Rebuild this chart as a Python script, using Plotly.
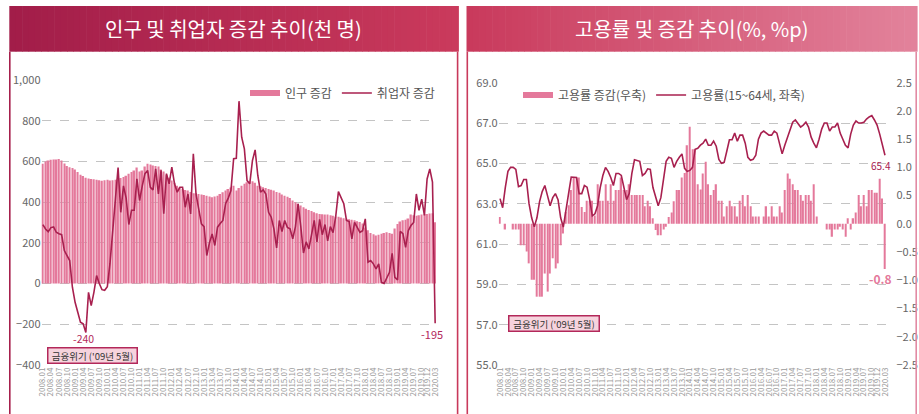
import plotly.graph_objects as go

# ---------------- data ----------------
months = [f"{y}.{m:02d}" for y in range(2008, 2021) for m in range(1, 13)][:147]
tick_vals = months[0:142:3] + ["2019.12", "2020.03"]
tick_text = months[0:142:3] + ["2019.12", "2020.03"]

# 인구 증감 (천 명)
pop_change = [
    588, 600, 605, 608, 610, 610, 612, 605, 590, 578, 572, 568,
    560, 548, 535, 528, 520, 516, 514, 512, 510, 508, 505, 508,
    510, 506, 508, 510, 512, 518, 524, 530, 540, 548, 555, 570,
    550, 555, 575, 588, 585, 580, 578, 575, 560, 550, 535, 520,
    506, 495, 481, 472, 465, 460, 457, 450, 444, 442, 440, 437,
    435, 432, 428, 424, 428, 432, 440, 449, 457, 465, 472, 481,
    457, 470, 481, 490, 498, 500, 503, 495, 481, 478, 473, 470,
    465, 461, 457, 450, 446, 438, 432, 427, 420, 408, 400, 392,
    384, 375, 368, 362, 356, 350, 345, 342, 340, 339, 339, 336,
    333, 330, 328, 325, 321, 318, 316, 313, 311, 306, 303, 295,
    275, 262, 248, 242, 236, 240, 245, 248, 252, 248, 245, 270,
    293, 305, 311, 314, 320, 339, 336, 333, 336, 339, 340, 342,
    344, 345, 301,
]

# 취업자 증감 (천 명)
emp_change = [
    290, 268, 255, 275, 278, 252, 245, 240, 162, 135, 113, -18,
    -92, -141, -190, -198, -240, -43, -108, -43, 39, 0, -30, -33,
    -15, 100, 260, 400, 570, 350, 480, 420, 290, 360, 360, 514,
    408, 480, 540, 556, 473, 460, 563, 440, 556, 343, 540, 490,
    572, 490, 449, 473, 473, 375, 440, 342, 637, 440, 375, 293,
    280, 138, 200, 244, 187, 277, 295, 310, 392, 420, 457, 613,
    615, 896, 719, 662, 506, 490, 604, 657, 531, 449, 460, 440,
    350, 326, 269, 175, 310, 256, 310, 276, 269, 220, 280, 392,
    280, 150, 205, 170, 240, 310, 205, 315, 240, 290, 210, 280,
    250, 330, 452, 424, 392, 310, 305, 220, 300, 276, 252, 260,
    318, 105, 113, 97, 72, 97, 6, 0, 31, 55, 149, 31,
    18, 256, 245, 178, 260, 285, 300, 440, 360, 415, 335, 514,
    563, 498, -195,
]

# 고용률 증감 (%p, 우축)
rate_change = [
    0.12, 0.0, -0.1, 0.0, 0.0, -0.1, -0.1, -0.1, -0.38, -0.38, -0.49, -0.7,
    -0.99, -0.99, -1.29, -1.29, -1.29, -0.88, -1.2, -0.88, -0.61, -0.79, -0.7, -0.38,
    -0.17, 0.21, 0.33, 0.6, 0.82, 0.82, 0.82, 0.3, 0.21, 0.41, 0.41, 0.41,
    0.15, 0.7, 0.41, 0.41, 0.7, 0.41, 0.7, 0.41, 0.6, 0.6, 0.82, 0.6,
    0.6, 0.7, 0.51, 0.51, 0.51, 0.51, 0.51, 0.31, 0.41, 0.31, 0.1, -0.11,
    -0.2, -0.2, -0.1, -0.05, 0.12, 0.2, 0.4, 0.6, 0.6, 0.82, 0.9, 1.39,
    1.72, 1.32, 1.32, 0.7, 0.61, 0.89, 1.1, 0.7, 0.51, 0.6, 0.7, 0.41,
    0.41, 0.13, 0.31, 0.41, 0.31, 0.31, 0.13, 0.41, 0.51, 0.31, 0.51, 0.31,
    0.13, 0.13, 0.13, 0.0, 0.13, 0.31, 0.13, 0.31, 0.13, 0.13, 0.31, 0.2,
    0.6, 0.89, 0.8, 0.7, 0.6, 0.6, 0.51, 0.41, 0.51, 0.51, 0.41, 0.7,
    0.13, 0.0, 0.0, 0.0, -0.1, -0.1, -0.23, -0.1, -0.1, -0.05, -0.1, -0.23,
    0.1, -0.1, 0.1, 0.2, 0.51, 0.31, 0.51, 0.31, 0.6, 0.6, 0.55, 0.55,
    0.8, 0.45, -0.8,
]

# 고용률 (15~64세, %, 좌축)
emp_rate = [
    63.25, 62.8, 63.8, 64.6, 64.8, 64.8, 64.7, 63.85, 63.9, 64.2, 64.2, 63.0,
    62.3, 61.85, 62.3, 63.1, 63.6, 63.9, 63.4, 62.9, 63.3, 63.5, 63.2, 62.3,
    61.84, 62.58, 63.5, 64.32, 64.3, 64.3, 63.5, 63.5, 63.9, 63.82, 63.2, 62.4,
    62.5, 62.9, 63.8, 64.4, 64.8, 64.6, 64.3, 63.9, 64.5, 64.5, 64.4, 63.8,
    63.2, 63.5, 64.5, 65.18, 65.15, 65.1, 64.4, 64.5, 64.73, 64.7, 63.8, 63.3,
    62.9, 63.3, 64.2, 65.1, 65.3, 65.25, 64.8, 65.1, 65.3, 65.47, 64.75, 64.6,
    64.65, 64.8, 65.7, 65.75, 65.9, 66.0, 66.2, 65.9, 65.9, 66.1, 65.85, 65.2,
    65.0, 65.05, 65.6, 66.17, 66.17, 66.5, 66.1, 66.4, 66.4, 66.0, 65.3, 65.15,
    65.2, 65.4, 66.2, 66.5, 66.6, 66.5, 66.4, 66.4, 66.6, 66.5, 66.0, 65.47,
    65.9, 66.3, 66.6, 67.04, 67.15, 67.0, 66.8, 66.9, 67.04, 66.8, 66.3, 66.0,
    65.77, 66.2, 66.7, 67.0, 67.0, 66.6, 66.8, 66.8, 67.0, 66.5, 66.2, 65.9,
    65.77, 66.45, 66.9, 67.1, 67.0, 67.0, 67.04, 67.2, 67.3, 67.37, 67.15, 66.9,
    66.45, 65.95, 65.4,
]

# ---------------- style ----------------
W, H = 919, 414
FONT = "Noto Sans CJK KR"
BAR = "#e4799b"
LINE = "#a8204f"
GRID = "#c4c4c4"


def px(x):
    return x / W


def py(y):
    return 1 - y / H


i_min = emp_change.index(min(emp_change))   # 2009.05
i_last = len(months) - 1                     # 2020.03

fig = go.Figure()

# left panel
fig.add_trace(go.Bar(x=months, y=pop_change, marker=dict(color=BAR, line=dict(width=0)),
                     width=0.6, showlegend=False, xaxis="x", yaxis="y", hoverinfo="skip"))
fig.add_trace(go.Scatter(x=[None], y=[None], mode="lines", name="인구 증감",
                         line=dict(color=BAR, width=6), legend="legend", xaxis="x", yaxis="y"))
fig.add_trace(go.Scatter(x=months, y=emp_change, mode="lines", name="취업자 증감",
                         line=dict(color=LINE, width=1.6), legend="legend", xaxis="x", yaxis="y"))

# right panel
fig.add_trace(go.Bar(x=months, y=rate_change, marker=dict(color=BAR, line=dict(width=0)),
                     width=0.5, showlegend=False, xaxis="x2", yaxis="y2", hoverinfo="skip"))
fig.add_trace(go.Scatter(x=[None], y=[None], mode="lines", name="고용률 증감(우축)",
                         line=dict(color=BAR, width=6), legend="legend2", xaxis="x2", yaxis="y2"))
fig.add_trace(go.Scatter(x=months, y=emp_rate, mode="lines", name="고용률(15~64세, 좌축)",
                         line=dict(color=LINE, width=1.6), legend="legend2", xaxis="x2", yaxis="y3"))

xcommon = dict(type="category", tickmode="array", tickvals=tick_vals, ticktext=tick_text,
               tickangle=-90, tickfont=dict(size=8, color="#9a9a9a", family=FONT),
               showgrid=False, zeroline=False, showline=False, ticks="", fixedrange=True,
               automargin=False)

fig.update_layout(
    width=W, height=H,
    margin=dict(l=0, r=0, t=0, b=0, autoexpand=False),
    paper_bgcolor="white", plot_bgcolor="rgba(0,0,0,0)",
    font=dict(family=FONT, color="#555"),
    bargap=0.2,
    xaxis=dict(domain=[px(41.5), px(436.5)], anchor="y", range=[-0.5, 146.5], **xcommon),
    yaxis=dict(domain=[py(365), py(80)], anchor="x", range=[-400, 1000], dtick=200,
               tickformat=",", showgrid=True, gridcolor=GRID, griddash="dash", gridwidth=1,
               zeroline=False, showline=False, automargin=False,
               tickfont=dict(size=11, color="#666", family=FONT)),
    xaxis2=dict(domain=[px(498.7), px(886.3)], anchor="y2", range=[-0.5, 146.5], **xcommon),
    yaxis2=dict(domain=[py(365), py(82.7)], anchor="x2", side="right", range=[-2.5, 2.5],
                dtick=0.5, tickformat=".1f", showgrid=False, zeroline=False, showline=False,
                ticks="outside", ticklen=7, tickcolor="rgba(0,0,0,0)", automargin=False,
                tickfont=dict(size=11, color="#666", family=FONT)),
    yaxis3=dict(overlaying="y2", anchor="x2", side="left", range=[55, 69], tick0=55, dtick=2,
                tickformat=".1f", showgrid=True, gridcolor=GRID, griddash="dash", gridwidth=1,
                zeroline=False, showline=False, automargin=False,
                tickfont=dict(size=11, color="#666", family=FONT)),
    legend=dict(orientation="h", x=px(440), xanchor="right", y=py(93), yanchor="middle",
                font=dict(size=12, color="#555", family=FONT), bgcolor="rgba(0,0,0,0)",
                itemwidth=30, tracegroupgap=0),
    legend2=dict(orientation="h", x=px(518), xanchor="left", y=py(95), yanchor="middle",
                 font=dict(size=12, color="#555", family=FONT), bgcolor="rgba(0,0,0,0)",
                 itemwidth=30, tracegroupgap=0),
)

# header bars (horizontal gradient via strips)
shapes = []


def gradient(x0, x1, y0, y1, c0, c1, n=70):
    step = (x1 - x0) / n
    for i in range(n):
        t = i / (n - 1)
        c = tuple(round(c0[k] + (c1[k] - c0[k]) * t) for k in range(3))
        shapes.append(dict(type="rect", xref="paper", yref="paper",
                           x0=px(x0 + i * step), x1=px(x0 + (i + 1) * step + 0.6),
                           y0=py(y1), y1=py(y0), line=dict(width=0),
                           fillcolor=f"rgb{c}", layer="below"))


gradient(9.3, 458.3, 6, 51.7, (162, 29, 73), (202, 58, 92))
gradient(466.5, 917, 6, 51.7, (201, 58, 92), (226, 130, 155))

# panel borders
for xb, col in [(9.8, "#a61f4c"), (457.6, "#c8385a"), (467.3, "#c93a5c"), (916.2, "#e28aa4")]:
    shapes.append(dict(type="line", xref="paper", yref="paper", x0=px(xb), x1=px(xb),
                       y0=py(414), y1=py(51.7), line=dict(color=col, width=1.6)))

fig.update_layout(shapes=shapes)

ann = []
ann.append(dict(text="인구 및 취업자 증감 추이(천 명)", x=px(233.8), y=py(29), xref="paper", yref="paper",
                xanchor="center", yanchor="middle", showarrow=False,
                font=dict(size=20, color="white", family=FONT)))
ann.append(dict(text="고용률 및 증감 추이(%, %p)", x=px(691.7), y=py(29), xref="paper", yref="paper",
                xanchor="center", yanchor="middle", showarrow=False,
                font=dict(size=20, color="white", family=FONT)))

# left annotations
ann.append(dict(text=f"{emp_change[i_min]}", x=i_min, y=emp_change[i_min], xref="x", yref="y",
                showarrow=False, xanchor="center", yanchor="top", yshift=2, xshift=-2,
                borderpad=0, font=dict(size=10.5, color="#b3285a", family=FONT)))
ann.append(dict(text=f"{emp_change[i_last]}", x=i_last, y=emp_change[i_last], xref="x", yref="y",
                showarrow=False, xanchor="center", yanchor="top", yshift=-2, xshift=-3,
                borderpad=0, font=dict(size=11, color="#b3285a", family=FONT)))
ann.append(dict(text="금융위기 ('09년 5월)", x=px(92.7), y=py(355), xref="paper", yref="paper",
                xanchor="center", yanchor="middle", showarrow=False,
                bgcolor="#f6d3dd", bordercolor="#b3285a", borderwidth=1.5,
                width=86, height=12, borderpad=1, font=dict(size=9.5, color="#333", family=FONT)))

# right annotations
ann.append(dict(text=f"{emp_rate[i_last]:.1f}", x=i_last, y=emp_rate[i_last], xref="x2", yref="y3",
                showarrow=False, xanchor="center", yanchor="top", yshift=-2, xshift=-4,
                borderpad=0, font=dict(size=10, color=LINE, family=FONT)))
ann.append(dict(text=f"<b>{rate_change[i_last]:.1f}</b>", x=i_last, y=rate_change[i_last], xref="x2",
                yref="y2", showarrow=False, xanchor="center", yanchor="top", yshift=0, xshift=-4,
                borderpad=0, font=dict(size=12, color=BAR, family=FONT)))
ann.append(dict(text="금융위기 ('09년 5월)", x=px(553.8), y=py(323.9), xref="paper", yref="paper",
                xanchor="center", yanchor="middle", showarrow=False,
                bgcolor="#f6d3dd", bordercolor="#b3285a", borderwidth=1.5,
                width=87, height=12, borderpad=1, font=dict(size=9.5, color="#333", family=FONT)))

fig.update_layout(annotations=ann)

fig.write_html("out.html", config={"displayModeBar": False},
               post_script="document.body.style.margin='0';document.body.style.padding='0';")
